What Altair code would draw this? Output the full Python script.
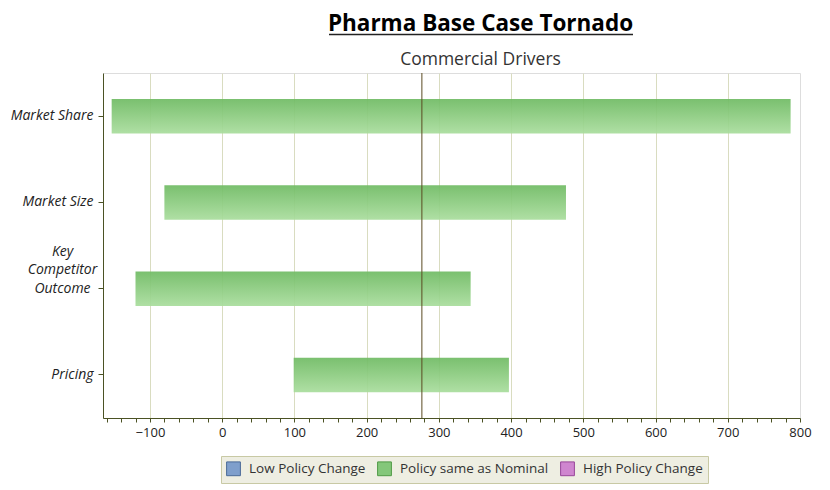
import altair as alt
import pandas as pd

drivers = ["Market Share", "Market Size", "Key Competitor Outcome", "Pricing"]
low_values = [-153, -80, -120, 99]
high_values = [787, 476, 344, 397]
policy = ["Policy same as Nominal"] * 4
base_value = 276.5
legend_items = ["Low Policy Change", "Policy same as Nominal", "High Policy Change"]
legend_fill = ["#7f9fcc", "#84c77a", "#cf86cf"]
legend_stroke = ["#4a6a98", "#4f9a45", "#98479a"]
x_ticks = list(range(-160, 801, 20))
title_text = "Pharma Base Case Tornado"
subtitle_text = "Commercial Drivers"

df = pd.DataFrame({"driver": drivers, "low": low_values, "high": high_values, "policy": policy})
base_df = pd.DataFrame({"base": [base_value]})
title_df = pd.DataFrame({"t": [title_text], "s": [subtitle_text]})

FONT = "Open Sans"
AXIS_DARK = "#4b5224"

xscale = alt.Scale(domain=[-165, 800], nice=False, zero=False)
yscale = alt.Scale(domain=drivers, paddingInner=0.6, paddingOuter=0.3)

grad = alt.Gradient(
    gradient="linear",
    stops=[alt.GradientStop(color="#70bb64", offset=0),
           alt.GradientStop(color="#a9dd9d", offset=1)],
    x1=0, x2=0, y1=0, y2=1,
)

KEY_TEST = "datum.value == 'Key Competitor Outcome'"

x_axis = alt.Axis(
    values=x_ticks,
    tickCount=200,
    labelExpr="datum.value % 100 == 0 ? datum.label : ''",
    labelOverlap=False,
    labelFlush=False,
    title=None,
    grid=True,
    gridColor="#d9dcc0",
    gridOpacity={"condition": {"test": "datum.value % 100 == 0 && datum.value < 800", "value": 1}, "value": 0},
    domainColor=AXIS_DARK,
    tickColor=AXIS_DARK,
    tickSize=4,
    labelFont=FONT,
    labelFontSize=13,
    labelColor="#222222",
    labelPadding=4,
)

y_axis = alt.Axis(
    title=None,
    grid=False,
    domainColor=AXIS_DARK,
    tickColor=AXIS_DARK,
    tickSize=5,
    labelFont=FONT,
    labelFontSize=14,
    labelFontStyle="italic",
    labelColor="#222222",
    labelExpr="datum.value == 'Key Competitor Outcome' ? ['Key', 'Competitor', 'Outcome'] : datum.value",
    labelBaseline="bottom",
    labelOffset={"condition": {"test": KEY_TEST, "value": -30}, "value": 7},
    labelLineHeight=18.5,
    labelAlign={"condition": {"test": KEY_TEST, "value": "center"}, "value": "right"},
    labelPadding={"condition": {"test": KEY_TEST, "value": 36}, "value": 5},
)

legend_layer = alt.Chart(df).mark_square(size=0, opacity=1).encode(
    x=alt.X("low:Q", scale=xscale, axis=x_axis),
    y=alt.Y("driver:N", scale=yscale, axis=y_axis, sort=drivers),
    color=alt.Color(
        "policy:N",
        scale=alt.Scale(domain=legend_items, range=legend_fill),
        legend=alt.Legend(
            title=None,
            orient="none",
            direction="horizontal",
            legendX=118,
            legendY=383,
            fillColor="#eeeee2",
            strokeColor="#c8c9a4",
            padding=5,
            symbolType="square",
            symbolSize=190,
            symbolStrokeWidth=1,
            symbolOpacity=1,
            labelFont=FONT,
            labelFontSize=13.5,
            labelColor="#333333",
            columnPadding=9,
            labelOffset=8,
        ),
    ),
    stroke=alt.Stroke(
        "policy:N",
        scale=alt.Scale(domain=legend_items, range=legend_stroke),
        legend=None,
    ),
)

bars = alt.Chart(df).mark_bar(color=grad, strokeWidth=0, opacity=0.93).encode(
    x=alt.X("low:Q", scale=xscale, axis=x_axis),
    x2="high:Q",
    y=alt.Y("driver:N", scale=yscale, sort=drivers, axis=y_axis),
)

base_rule = alt.Chart(base_df).mark_rule(color="#5a4a22", strokeWidth=1).encode(
    x=alt.X("base:Q", scale=xscale, axis=x_axis),
)

title_mark = alt.Chart(title_df).mark_text(
    font=FONT, fontSize=22.5, fontWeight="bold", color="#000000",
    align="center", baseline="alphabetic", clip=False,
).encode(x=alt.value(377.5), y=alt.value(-42), text="t:N")

subtitle_mark = alt.Chart(title_df).mark_text(
    font=FONT, fontSize=17.5, color="#333333",
    align="center", baseline="alphabetic", clip=False,
).encode(x=alt.value(377.5), y=alt.value(-8), text="s:N")

underline = alt.Chart(base_df).mark_rule(color="#222222", strokeWidth=1.5, clip=False).encode(
    x=alt.value(226), x2=alt.value(530), y=alt.value(-38.5)
)

chart = alt.layer(legend_layer, bars, base_rule, title_mark, subtitle_mark, underline).properties(
    width=697,
    height=345,
    autosize=alt.AutoSizeParams(type="none"),
    padding={"left": 103, "top": 73, "right": 30, "bottom": 72},
).configure_view(
    stroke="#c8c9a4",
    strokeWidth=1,
).configure(background="white")

chart.save("out.html", embed_options={"renderer": "svg", "actions": False})
